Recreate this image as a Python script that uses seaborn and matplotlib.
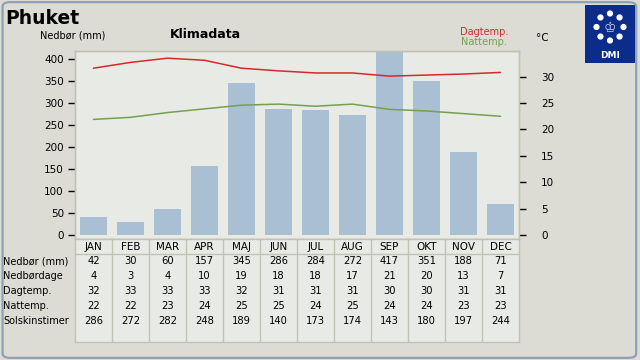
import numpy as np
import pandas as pd
import matplotlib
matplotlib.use('Agg')
import matplotlib.pyplot as plt
import seaborn as sns
from matplotlib.patches import FancyBboxPatch, Rectangle, Circle

# klimadata for Phuket
months = ['JAN', 'FEB', 'MAR', 'APR', 'MAJ', 'JUN', 'JUL', 'AUG', 'SEP', 'OKT', 'NOV', 'DEC']
nedbor = [42, 30, 60, 157, 345, 286, 284, 272, 417, 351, 188, 71]
nedbordage = [4, 3, 4, 10, 19, 18, 18, 17, 21, 20, 13, 7]
dagtemp = [32, 33, 33, 33, 32, 31, 31, 31, 30, 30, 31, 31]
nattemp = [22, 22, 23, 24, 25, 25, 24, 25, 24, 24, 23, 23]
solskin = [286, 272, 282, 248, 189, 140, 173, 174, 143, 180, 197, 244]
# curves as drawn (more decimals than the table)
dag_curve = [31.6, 32.7, 33.5, 33.1, 31.6, 31.1, 30.7, 30.7, 30.1, 30.3, 30.5, 30.8]
nat_curve = [21.9, 22.3, 23.2, 23.9, 24.6, 24.8, 24.4, 24.8, 23.8, 23.5, 23.0, 22.5]
row_names = ['Nedbør (mm)', 'Nedbørdage', 'Dagtemp.', 'Nattemp.', 'Solskinstimer']
rows = [nedbor, nedbordage, dagtemp, nattemp, solskin]

BG = '#dcdcd4'
PLOT_BG = '#e8eae5'
FRAME = '#c2c2b2'
BAR = '#a8bfd4'
RED = '#d42a2a'
GREEN = '#74a050'

sns.set_theme(style='white')
plt.rcParams['font.family'] = ['DejaVu Sans']
plt.rcParams['text.color'] = 'black'
plt.rcParams['ytick.color'] = 'black'
plt.rcParams['xtick.color'] = 'black'

W, H = 640, 360
fig = plt.figure(figsize=(6.4, 3.6), dpi=100, facecolor=BG)

def box(x0, y0, x1, y1):
    # pixel box (top-left origin) -> figure fraction rect
    return [x0 / W, 1 - y1 / H, (x1 - x0) / W, (y1 - y0) / H]

# outer rounded frame
frame = FancyBboxPatch((0.004, 0.006), 0.99, 0.988, boxstyle='round,pad=0,rounding_size=0.012',
                       transform=fig.transFigure, facecolor='none', edgecolor='#8ea0b4', lw=1.6, zorder=10)
fig.patches.append(frame)

# main chart
df = pd.DataFrame({'month': months, 'nedbor': nedbor, 'dag': dag_curve, 'nat': nat_curve})
df['pos'] = np.arange(len(months))

ax = fig.add_axes(box(75, 50.7, 519, 239))
ax.set_facecolor(PLOT_BG)
sns.barplot(data=df, x='pos', y='nedbor', color=BAR, width=0.73, saturation=1, linewidth=0,
            ax=ax, native_scale=True)
ax.set_xlim(-0.5, 11.5)
ax.set_ylim(-9, 419)
ax.set_yticks(range(0, 401, 50))
ax.set_xticks([])
ax.set_xlabel('')
ax.set_ylabel('')
ax.tick_params(axis='y', left=True, length=5, width=1, color='black', labelcolor='black', labelsize=7.5, pad=3)
for s in ax.spines.values():
    s.set_color(FRAME)
    s.set_linewidth(1)

ax2 = ax.twinx()
sns.lineplot(data=df, x='pos', y='dag', color=RED, lw=1.1, ax=ax2)
sns.lineplot(data=df, x='pos', y='nat', color=GREEN, lw=1.1, ax=ax2)
ax2.set_ylim(-9 / 12, 419 / 12)
ax2.set_yticks(range(0, 31, 5))
ax2.set_xlabel('')
ax2.set_ylabel('')
ax2.tick_params(axis='y', right=True, length=5, width=1, color='black', labelcolor='black', labelsize=7.5, pad=11)
for s in ax2.spines.values():
    s.set_color(FRAME)
    s.set_linewidth(1)

# table under chart
axt = fig.add_axes(box(75, 239, 519, 342))
axt.set_facecolor(PLOT_BG)
axt.set_xlim(-0.5, 11.5)
axt.set_ylim(6.87, 0)
axt.set_xticks([])
axt.set_yticks([])
for s in axt.spines.values():
    s.set_color(FRAME)
    s.set_linewidth(1)
for i in range(11):
    axt.axvline(i + 0.5, color=FRAME, lw=1)
axt.axhline(1.0, color=FRAME, lw=1)
for i, m in enumerate(months):
    axt.text(i, 0.55, m, ha='center', va='center', fontsize=7.5)
for r, (name, vals) in enumerate(zip(row_names, rows)):
    y = r + 1.5
    fig.text(3 / W, 1 - (261 + 15 * r) / H, name, ha='left', va='center', fontsize=7)
    for i, v in enumerate(vals):
        axt.text(i, y, str(v), ha='center', va='center', fontsize=7.2)

# titles and labels
fig.text(5 / W, 1 - 18 / H, 'Phuket', fontsize=13.5, fontweight='bold', va='center', ha='left')
fig.text(205 / W, 1 - 35 / H, 'Klimadata', fontsize=9, fontweight='bold', va='center', ha='center')
fig.text(40 / W, 1 - 36 / H, 'Nedbør (mm)', fontsize=7, va='center', ha='left')
fig.text(508 / W, 1 - 32 / H, 'Dagtemp.', fontsize=7, color=RED, va='center', ha='right')
fig.text(507 / W, 1 - 42 / H, 'Nattemp.', fontsize=7, color=GREEN, va='center', ha='right')
fig.text(536 / W, 1 - 38 / H, '°C', fontsize=7.5, va='center', ha='left')

# DMI logo
logo = fig.add_axes(box(585, 5, 635, 63))
logo.set_xlim(0, 50)
logo.set_ylim(58, 0)
logo.axis('off')
logo.add_patch(Rectangle((0, 0), 50, 58, facecolor='#0b2c8a', edgecolor='none'))
for a in np.linspace(0, 2 * np.pi, 9)[:-1]:
    logo.add_patch(Circle((25 + 13.5 * np.sin(a), 22 - 13.5 * np.cos(a)), 2.4, color='white'))
logo.text(25, 23, '♔', fontsize=10, color='#c8d4f0', ha='center', va='center')
logo.text(25, 50, 'DMI', fontsize=6.5, color='white', ha='center', va='center', fontweight='bold')

fig.savefig('out.png', dpi=100, facecolor=BG)
